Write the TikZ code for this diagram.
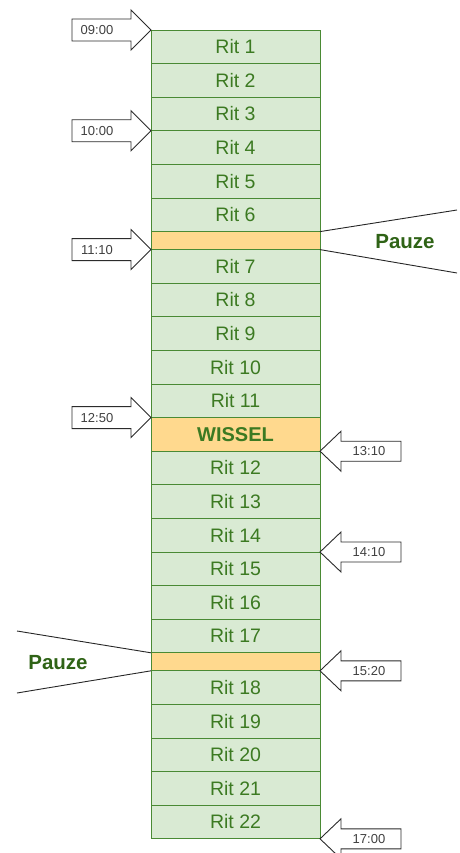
\documentclass[tikz,border=0pt]{standalone}
\usepackage{fontspec}
\setmainfont{Liberation Sans}
\usetikzlibrary{calc}

\definecolor{ritfill}{HTML}{D9EAD3}
\definecolor{ritline}{HTML}{4A8A34}
\definecolor{rittext}{HTML}{3C7A22}
\definecolor{bandfill}{HTML}{FFD98E}
\definecolor{pauzetext}{HTML}{2F6316}
\definecolor{arrowline}{HTML}{2B2B2B}

\tikzset{
  ritbox/.style={draw=ritline, fill=ritfill, line width=0.9pt, minimum width=169pt,
    minimum height=33.6pt, inner sep=0pt, outer sep=0pt, anchor=north,
    text=rittext, font=\fontsize{19.5}{21}\selectfont},
  bandbox/.style={ritbox, fill=bandfill, minimum height=18pt},
  wisselbox/.style={ritbox, fill=bandfill, font=\fontsize{20}{22}\selectfont\bfseries},
  timearrow/.style={draw=arrowline, fill=white, line width=0.9pt, line join=miter},
  timetext/.style={text=arrowline!90, font=\fontsize{13}{14}\selectfont, inner sep=0pt},
  pauzelabel/.style={text=pauzetext, font=\fontsize{20.5}{22}\selectfont\bfseries, inner sep=0pt},
  pauzeline/.style={draw=black!85, line width=0.9pt}
}

% arrow coming from the left, tip on the given anchor
\newcommand\arrowfromleft[3]{%
  \draw[timearrow] (#1) -- ++(-20,-20) -- ++(0,9) -- ++(-59,0) -- ++(0,22)
    -- ++(59,0) -- ++(0,9) -- cycle;
  \node[timetext] (#3) at ($(#1)+(-54,0)$) {#2};}
% arrow coming from the right, tip on the given anchor
\newcommand\arrowfromright[3]{%
  \draw[timearrow] (#1) -- ++(21,-20) -- ++(0,10) -- ++(60,0) -- ++(0,20)
    -- ++(-60,0) -- ++(0,10) -- cycle;
  \node[timetext] (#3) at ($(#1)+(49,0)$) {#2};}

\begin{document}
\begin{tikzpicture}[x=1pt,y=-1pt]
\useasboundingbox (0,0) rectangle (459,853);

% morning block
\foreach \i in {1,...,6}
  \node[ritbox] (r\i) at (235.5,{30+(\i-1)*33.6}) {Rit \i};
\node[bandbox] (p1) at (235.5,231.6) {};
\foreach \i in {7,...,11}
  \node[ritbox] (r\i) at (235.5,{249.6+(\i-7)*33.6}) {Rit \i};
\node[wisselbox] (w) at (235.5,417.6) {WISSEL};
% afternoon block
\foreach \i in {12,...,17}
  \node[ritbox] (r\i) at (235.5,{451.2+(\i-12)*33.6}) {Rit \i};
\node[bandbox] (p2) at (235.5,652.8) {};
\foreach \i in {18,...,22}
  \node[ritbox] (r\i) at (235.5,{670.8+(\i-18)*33.6}) {Rit \i};

% time markers
\arrowfromleft{r1.north west}{09:00}{t0900}
\arrowfromleft{r3.south west}{10:00}{t1000}
\arrowfromleft{p1.south west}{11:10}{t1110}
\arrowfromleft{r11.south west}{12:50}{t1250}
\arrowfromright{w.south east}{13:10}{t1310}
\arrowfromright{r14.south east}{14:10}{t1410}
\arrowfromright{p2.south east}{15:20}{t1520}
\arrowfromright{r22.south east}{17:00}{t1700}

% breaks
\coordinate (pa1) at (457,210);
\coordinate (pa2) at (457,273);
\draw[pauzeline] (p1.north east) -- (pa1);
\draw[pauzeline] (p1.south east) -- (pa2);
\node[pauzelabel] (pz1) at (405,242) {Pauze};

\coordinate (pb1) at (17,631);
\coordinate (pb2) at (17,693);
\draw[pauzeline] (p2.north west) -- (pb1);
\draw[pauzeline] (p2.south west) -- (pb2);
\node[pauzelabel] (pz2) at (58,663) {Pauze};
\end{tikzpicture}
\end{document}
